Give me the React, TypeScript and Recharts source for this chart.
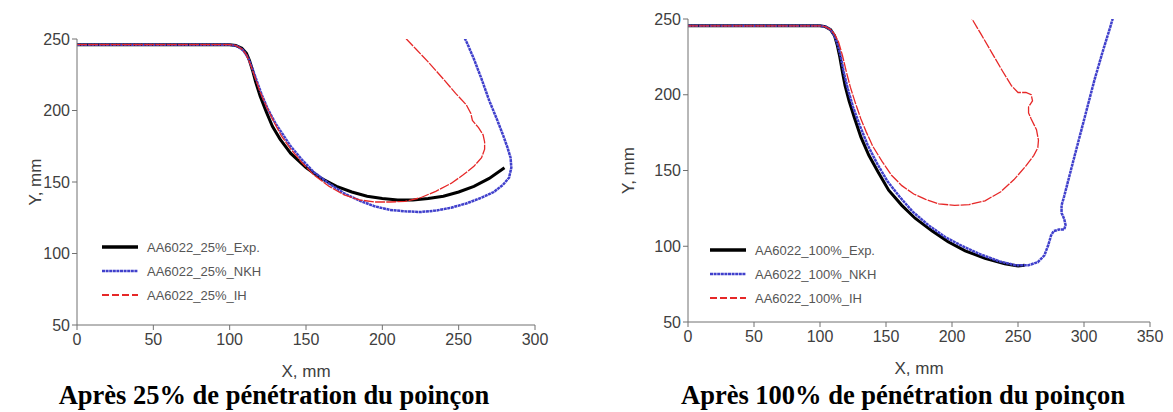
import React from "react";
import { LineChart, Line, XAxis, YAxis, Legend, Label } from "recharts";

// ---- data ----
const exp25: [number, number][] = [
  [0, 246], [50, 246], [100, 246], [104, 245.5], [108, 243.5], [111, 240], [113, 235],
  [115, 228], [117, 220], [120, 210], [124, 199], [128, 189], [133, 180], [140, 170],
  [150, 160], [160, 152.5], [170, 147], [180, 143], [190, 140], [200, 138.5], [210, 137.5],
  [220, 137.5], [230, 138.5], [240, 140], [250, 143], [260, 147], [270, 152.5], [280, 160],
];
const nkh25: [number, number][] = [
  [0, 246], [50, 246], [100, 246], [105, 245], [109, 242], [112, 237], [115, 229], [118, 220],
  [121, 211], [125, 201], [130, 191], [135, 183], [140, 175], [147, 166], [155, 157], [165, 149],
  [175, 142], [185, 137], [195, 133], [205, 130.5], [215, 129.5], [225, 129], [235, 130],
  [245, 132], [255, 135], [265, 139], [273, 143], [279, 148], [283, 153], [284.5, 160],
  [284, 167], [282, 174], [279, 183], [275, 194], [270, 207], [265, 222], [260, 236],
  [256, 246], [252, 255],
];
const ih25: [number, number][] = [
  [0, 246], [50, 246], [100, 246], [104, 245.5], [108, 243], [111, 239], [114, 231], [117, 222],
  [120, 213], [124, 203], [129, 192], [134, 182], [140, 173], [147, 164], [155, 155], [165, 147],
  [175, 141], [185, 137.5], [195, 136], [205, 136], [215, 136.5], [225, 139], [235, 143.5],
  [245, 149], [253, 155], [260, 161], [265, 167], [267, 173], [267, 178], [266, 183], [263, 188],
  [259, 193], [258, 198], [255, 204], [248, 212], [240, 222], [230, 234], [222, 243], [214, 252],
];

const exp100: [number, number][] = [
  [0, 245.5], [50, 245.5], [100, 245.5], [104, 245], [108, 243], [111, 239], [113, 233],
  [115, 225], [117, 215], [119, 206], [122, 196], [126, 185], [131, 172], [137, 160],
  [144, 149], [152, 137], [162, 127], [172, 118.5], [185, 110], [197, 103], [210, 97],
  [225, 92], [240, 88.5], [250, 87], [255, 87.5],
];
const nkh100: [number, number][] = [
  [0, 245.5], [50, 245.5], [100, 245.5], [104, 245], [108, 243], [111, 239], [113.5, 233],
  [116, 224], [118, 215], [121, 204], [125, 192], [130, 180], [136, 167], [143, 155],
  [151, 143], [160, 133], [170, 123], [182, 114], [195, 106], [208, 100], [222, 94.5],
  [236, 90], [248, 87.5], [258, 87.5], [265, 89.5], [270, 94], [273, 101], [275, 107],
  [277, 110], [281, 111], [285, 111], [286, 114], [285, 118], [283, 122], [283, 127],
  [285, 133], [290, 150], [296, 170], [302, 190], [308, 210], [314, 228], [320, 245], [323, 254],
];
const ih100: [number, number][] = [
  [0, 245.5], [50, 245.5], [100, 245.5], [104, 245], [108, 243], [111, 240], [114, 235],
  [117, 226], [120, 215], [123, 205], [127, 194], [131, 184], [135, 175.5], [140, 166],
  [147, 156], [154, 147], [162, 140], [171, 134.5], [180, 131], [190, 128], [202, 127],
  [213, 127.5], [225, 130], [237, 136], [247, 144], [256, 153], [262, 160], [265, 165],
  [265.5, 170], [264, 177], [260, 184], [258, 188], [258, 192], [261, 196], [260, 200],
  [256, 201.5], [250, 201.5], [245, 206], [238, 216], [230, 228], [222, 240], [214.5, 251],
];

const xTicks25 = [0, 50, 100, 150, 200, 250, 300];
const xTicks100 = [0, 50, 100, 150, 200, 250, 300, 350];
const yTicks = [50, 100, 150, 200, 250];

const names25 = ["AA6022_25%_Exp.", "AA6022_25%_NKH", "AA6022_25%_IH"];
const names100 = ["AA6022_100%_Exp.", "AA6022_100%_NKH", "AA6022_100%_IH"];

const FONT = "'Liberation Sans', Arial, sans-serif";
const TEXT = "#404040";
const AXIS = "#707070";

const styles = [
  { stroke: "#000000", width: 3, dash: undefined as string | undefined },
  { stroke: "#4040cc", width: 2.5, dash: "3 0.6" },
  { stroke: "#e62828", width: 1.3, dash: "10 1.2" },
];

const toPoints = (pts: [number, number][]) => pts.map(([x, y]) => ({ x, y }));

type PanelProps = {
  left: number;
  width: number;
  height: number;
  margin: { top: number; right: number; left: number; bottom: number };
  yWidth: number;
  yLabelDx: number;
  xHeight: number;
  xLabelOffset: number;
  xMax: number;
  xTicks: number[];
  series: [number, number][][];
  names: string[];
  legend: { left: number; top: number };
  title: string;
  titleLeft: number;
  titleWidth: number;
};

const Panel = (p: PanelProps) => {
  const legendContent = () => (
    <div style={{ fontFamily: FONT, fontSize: 13, color: "#555" }}>
      {p.names.map((n, i) => (
        <div key={n} style={{ display: "flex", alignItems: "center", height: 24 }}>
          <svg width={40} height={8} style={{ marginRight: 6 }}>
            <line
              x1={1}
              x2={37}
              y1={4}
              y2={4}
              stroke={styles[i].stroke}
              strokeWidth={i === 2 ? 2 : styles[i].width + (i === 0 ? 0.5 : 0)}
              strokeDasharray={i === 2 ? "7 3" : styles[i].dash}
            />
          </svg>
          <span>{n}</span>
        </div>
      ))}
    </div>
  );

  return (
    <div style={{ position: "absolute", left: p.left, top: 0, width: p.width, height: 412 }}>
      <LineChart width={p.width} height={p.height} margin={p.margin}>
        <XAxis
          type="number"
          dataKey="x"
          domain={[0, p.xMax]}
          ticks={p.xTicks}
          allowDataOverflow
          height={p.xHeight}
          stroke={AXIS}
          tickSize={5}
          tickMargin={4}
          tick={{ fill: TEXT, fontSize: 16, fontFamily: FONT }}
        >
          <Label
            value="X, mm"
            position="insideBottom"
            offset={p.xLabelOffset}
            style={{ fill: TEXT, fontSize: 17, fontFamily: FONT }}
          />
        </XAxis>
        <YAxis
          type="number"
          domain={[50, 250]}
          ticks={yTicks}
          allowDataOverflow
          width={p.yWidth}
          stroke={AXIS}
          tickSize={5}
          tick={{ fill: TEXT, fontSize: 16, fontFamily: FONT }}
        >
          <Label
            content={({ viewBox }: any) => {
              const cx = viewBox.x + p.yLabelDx;
              const cy = viewBox.y + viewBox.height / 2;
              return (
                <text
                  x={cx}
                  y={cy}
                  transform={`rotate(-90 ${cx} ${cy})`}
                  textAnchor="middle"
                  dominantBaseline="central"
                  fill={TEXT}
                  fontSize={17}
                  fontFamily={FONT}
                >
                  Y, mm
                </text>
              );
            }}
          />
        </YAxis>
        <Legend
          layout="vertical"
          align="center"
          verticalAlign="middle"
          content={legendContent}
          wrapperStyle={{ position: "absolute", left: p.legend.left, top: p.legend.top, width: 220 }}
        />
        {p.series.map((s, i) => (
          <Line
            key={p.names[i]}
            name={p.names[i]}
            data={toPoints(s)}
            dataKey="y"
            type="linear"
            stroke={styles[i].stroke}
            strokeWidth={styles[i].width}
            strokeDasharray={styles[i].dash}
            dot={false}
            activeDot={false}
            isAnimationActive={false}
          />
        ))}
      </LineChart>
      <div
        style={{
          position: "absolute",
          left: p.titleLeft,
          top: 380,
          width: p.titleWidth,
          textAlign: "center",
          fontFamily: "'Liberation Serif', 'Times New Roman', serif",
          fontWeight: "bold",
          fontSize: 26.5,
          lineHeight: "30px",
          color: "#000",
          whiteSpace: "nowrap",
        }}
      >
        {p.title}
      </div>
    </div>
  );
};

export default function App() {
  return (
    <div
      style={{
        position: "absolute",
        left: 0,
        top: 0,
        width: 1173,
        height: 412,
        background: "#fff",
        overflow: "hidden",
      }}
    >
      <Panel
        left={0}
        width={560}
        height={380}
        margin={{ top: 39, right: 25, left: 10, bottom: 0 }}
        yWidth={67}
        yLabelDx={25}
        xHeight={55}
        xLabelOffset={3}
        xMax={300}
        xTicks={xTicks25}
        series={[exp25, nkh25, ih25]}
        names={names25}
        legend={{ left: 101, top: 235 }}
        title="Après 25% de pénétration du poinçon"
        titleLeft={0}
        titleWidth={548}
      />
      <Panel
        left={600}
        width={573}
        height={380}
        margin={{ top: 19, right: 23, left: 10, bottom: 0 }}
        yWidth={78}
        yLabelDx={18}
        xHeight={58}
        xLabelOffset={6}
        xMax={350}
        xTicks={xTicks100}
        series={[exp100, nkh100, ih100]}
        names={names100}
        legend={{ left: 109, top: 238 }}
        title="Après 100% de pénétration du poinçon"
        titleLeft={0}
        titleWidth={606}
      />
    </div>
  );
}
